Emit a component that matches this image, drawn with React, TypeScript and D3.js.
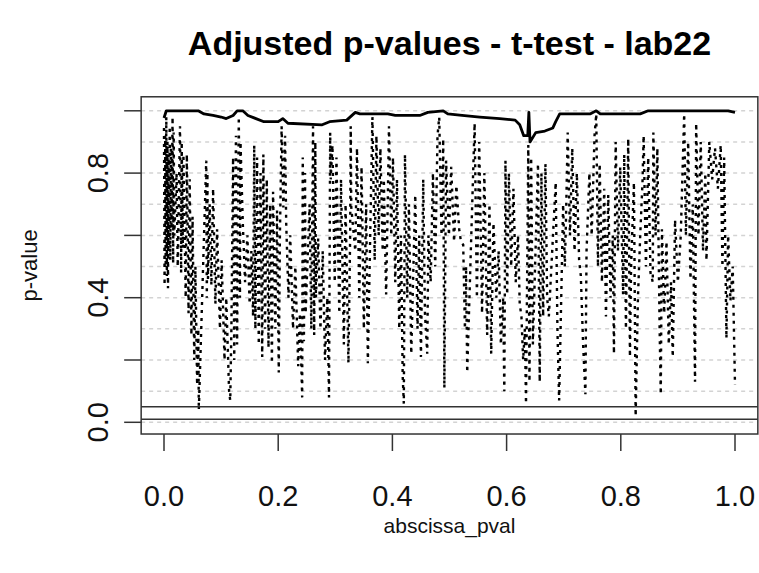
import React from "react";
import * as d3 from "d3";

// Unadjusted p-values along the abscissa: [abscissa, p]
const rawPvals: [number, number][] = [
  [0.000, 0.945], [0.001, 0.44], [0.002, 0.92], [0.003, 0.50], [0.004, 0.98],
  [0.005, 0.47], [0.006, 0.90], [0.007, 0.43], [0.008, 0.86], [0.009, 0.55],
  [0.010, 0.95], [0.011, 0.52], [0.012, 0.88], [0.013, 0.62],
  [0.015, 0.98], [0.016, 0.51], [0.017, 0.93], [0.018, 0.60],
  [0.022, 0.80], [0.024, 0.50],
  [0.028, 0.95], [0.030, 0.48], [0.031, 0.90], [0.033, 0.56], [0.034, 0.86],
  [0.038, 0.40], [0.040, 0.86], [0.043, 0.35], [0.045, 0.78], [0.048, 0.28],
  [0.050, 0.66], [0.053, 0.20], [0.055, 0.50], [0.058, 0.12], [0.060, 0.30],
  [0.061, 0.04],
  [0.074, 0.84], [0.075, 0.40], [0.076, 0.80], [0.077, 0.46],
  [0.080, 0.70], [0.083, 0.44], [0.086, 0.75], [0.090, 0.38], [0.093, 0.62],
  [0.098, 0.30], [0.101, 0.52], [0.106, 0.20], [0.109, 0.40], [0.114, 0.10],
  [0.116, 0.07],
  [0.118, 0.30], [0.121, 0.85], [0.123, 0.20], [0.126, 0.92], [0.128, 0.25],
  [0.131, 0.98], [0.133, 0.40], [0.134, 0.90],
  [0.138, 0.64], [0.142, 0.45], [0.146, 0.60], [0.150, 0.38], [0.153, 0.55],
  [0.156, 0.34],
  [0.158, 0.89], [0.160, 0.30], [0.163, 0.85], [0.166, 0.25], [0.169, 0.80],
  [0.172, 0.21], [0.174, 0.86],
  [0.177, 0.30], [0.180, 0.78], [0.183, 0.24], [0.186, 0.70], [0.189, 0.19],
  [0.191, 0.74], [0.195, 0.30], [0.198, 0.68], [0.201, 0.16], [0.203, 0.60],
  [0.206, 0.95], [0.209, 0.69], [0.212, 0.92], [0.214, 0.64],
  [0.218, 0.40], [0.221, 0.60], [0.226, 0.30], [0.230, 0.50], [0.235, 0.18],
  [0.238, 0.35], [0.242, 0.08],
  [0.243, 0.85], [0.245, 0.26], [0.247, 0.80], [0.248, 0.35],
  [0.255, 0.70], [0.258, 0.30], [0.261, 0.95], [0.263, 0.28], [0.265, 0.90],
  [0.266, 0.40],
  [0.270, 0.59], [0.274, 0.30], [0.278, 0.55], [0.282, 0.20], [0.286, 0.40],
  [0.289, 0.08],
  [0.291, 0.93], [0.292, 0.78],
  [0.295, 0.89], [0.299, 0.45], [0.302, 0.85], [0.307, 0.35], [0.310, 0.78],
  [0.315, 0.25], [0.318, 0.70], [0.323, 0.19], [0.326, 0.60],
  [0.327, 0.95], [0.328, 0.69],
  [0.335, 0.55], [0.338, 0.88], [0.342, 0.40], [0.346, 0.82], [0.350, 0.30],
  [0.354, 0.70], [0.357, 0.19],
  [0.365, 0.98], [0.369, 0.52], [0.372, 0.92], [0.376, 0.60], [0.379, 0.88],
  [0.383, 0.55],
  [0.385, 0.78], [0.389, 0.41], [0.392, 0.72],
  [0.394, 0.95], [0.398, 0.60], [0.401, 0.85], [0.405, 0.45], [0.408, 0.78],
  [0.412, 0.30], [0.415, 0.60], [0.418, 0.15], [0.420, 0.06],
  [0.422, 0.86], [0.426, 0.40], [0.429, 0.70], [0.433, 0.22],
  [0.440, 0.73], [0.444, 0.30], [0.447, 0.60], [0.450, 0.21],
  [0.454, 0.78], [0.457, 0.35], [0.461, 0.22],
  [0.463, 0.60], [0.467, 0.45], [0.471, 0.80], [0.475, 0.50], [0.479, 0.92],
  [0.482, 0.98],
  [0.486, 0.60], [0.489, 0.91], [0.491, 0.11],
  [0.494, 0.84], [0.499, 0.60], [0.503, 0.82], [0.508, 0.58], [0.512, 0.76],
  [0.517, 0.62], [0.520, 0.58],
  [0.524, 0.57], [0.527, 0.30], [0.529, 0.50], [0.531, 0.16],
  [0.544, 0.96], [0.548, 0.40], [0.552, 0.90], [0.557, 0.35], [0.561, 0.80],
  [0.566, 0.28], [0.570, 0.70], [0.573, 0.22],
  [0.577, 0.64], [0.582, 0.40], [0.586, 0.55], [0.590, 0.25], [0.594, 0.40],
  [0.596, 0.10],
  [0.598, 0.84], [0.601, 0.41], [0.604, 0.80], [0.608, 0.50], [0.612, 0.75],
  [0.616, 0.45], [0.620, 0.60], [0.623, 0.38],
  [0.626, 0.34], [0.629, 0.20], [0.632, 0.30], [0.634, 0.06],
  [0.638, 0.89], [0.640, 0.13], [0.643, 0.85], [0.646, 0.25],
  [0.655, 0.83], [0.658, 0.13], [0.661, 0.80], [0.664, 0.34], [0.668, 0.83],
  [0.671, 0.40], [0.674, 0.34],
  [0.686, 0.77], [0.689, 0.30], [0.692, 0.07],
  [0.699, 0.70], [0.702, 0.50], [0.704, 0.65],
  [0.707, 0.93], [0.711, 0.60], [0.715, 0.88], [0.719, 0.55], [0.723, 0.80],
  [0.727, 0.52],
  [0.730, 0.47], [0.734, 0.25], [0.738, 0.09],
  [0.740, 0.55], [0.745, 0.80], [0.749, 0.60], [0.754, 0.92], [0.757, 0.99],
  [0.760, 0.50], [0.763, 0.83], [0.767, 0.45], [0.771, 0.75], [0.774, 0.34],
  [0.778, 0.73], [0.782, 0.40], [0.786, 0.60], [0.788, 0.22],
  [0.791, 0.90], [0.795, 0.55], [0.799, 0.82], [0.804, 0.41],
  [0.806, 0.86], [0.809, 0.30], [0.813, 0.91], [0.816, 0.21], [0.818, 0.50],
  [0.823, 0.77], [0.826, 0.02], [0.830, 0.40], [0.834, 0.60], [0.838, 0.77],
  [0.840, 0.92], [0.844, 0.50], [0.848, 0.85], [0.852, 0.48], [0.856, 0.45],
  [0.857, 0.93], [0.861, 0.60], [0.864, 0.88], [0.868, 0.30], [0.870, 0.09],
  [0.872, 0.62], [0.876, 0.35], [0.880, 0.58], [0.884, 0.25], [0.888, 0.45],
  [0.891, 0.21],
  [0.895, 0.65], [0.900, 0.45], [0.905, 0.60],
  [0.911, 0.99], [0.914, 0.60], [0.918, 0.90], [0.922, 0.46], [0.926, 0.70],
  [0.930, 0.13],
  [0.932, 0.96], [0.936, 0.60], [0.940, 0.90], [0.944, 0.55], [0.948, 0.80],
  [0.950, 0.52],
  [0.955, 0.90], [0.960, 0.78], [0.965, 0.88], [0.970, 0.75],
  [0.975, 0.89], [0.978, 0.50], [0.981, 0.85], [0.985, 0.27], [0.988, 0.60],
  [0.992, 0.39], [0.996, 0.50], [1.000, 0.12],
];

// Adjusted p-values (solid curve near the top): [abscissa, p]
const adjPvals: [number, number][] = [
  [0.000, 0.977], [0.004, 1.000], [0.060, 1.000], [0.070, 0.990], [0.086, 0.985],
  [0.100, 0.980], [0.109, 0.975], [0.121, 0.985], [0.128, 1.000], [0.138, 1.000],
  [0.147, 0.985], [0.161, 0.975], [0.175, 0.965], [0.200, 0.965], [0.208, 0.975],
  [0.217, 0.960], [0.277, 0.955], [0.290, 0.965], [0.320, 0.970], [0.335, 0.995],
  [0.343, 0.990], [0.392, 0.990], [0.405, 0.985], [0.448, 0.985], [0.462, 0.995],
  [0.489, 1.000], [0.497, 0.990], [0.522, 0.985], [0.553, 0.980], [0.588, 0.975],
  [0.615, 0.970], [0.623, 0.955], [0.630, 0.920], [0.637, 0.920], [0.639, 0.995],
  [0.641, 0.900], [0.651, 0.930], [0.667, 0.935], [0.681, 0.945], [0.686, 0.965],
  [0.693, 0.990], [0.746, 0.990], [0.757, 1.000], [0.764, 0.990], [0.834, 0.990],
  [0.848, 1.000], [0.988, 1.000], [1.000, 0.995],
];

// Significance thresholds drawn as horizontal reference lines
const thresholds = [0.05, 0.01];

const xTicks = [0, 0.2, 0.4, 0.6, 0.8, 1.0];
const xTickLabels = ["0.0", "0.2", "0.4", "0.6", "0.8", "1.0"];
const yTicks = [0, 0.2, 0.4, 0.6, 0.8, 1.0];
const yTickLabels = ["0.0", "", "0.4", "", "0.8", ""];
const gridLevels = [0, 0.1, 0.2, 0.3, 0.4, 0.5, 0.6, 0.7, 0.8, 0.9, 1.0];

const W = 759;
const H = 573;
const FONT = "'Liberation Sans', Arial, sans-serif";

export default function App() {
  const x = d3.scaleLinear().domain([0, 1]).range([164, 735]);
  const y = d3.scaleLinear().domain([0, 1]).range([422.3, 110.8]);

  const boxL = x(-0.04);
  const boxR = x(1.04);
  const boxT = y(1.045);
  const boxB = y(-0.0376);

  const line = d3
    .line<[number, number]>()
    .x((d) => x(d[0]))
    .y((d) => y(d[1]));

  const tickLen = 17;

  return (
    <svg
      width={W}
      height={H}
      style={{ position: "absolute", left: 0, top: 0, background: "#fff" }}
      fontFamily={FONT}
    >
      <rect x={0} y={0} width={W} height={H} fill="#fff" />

      {/* horizontal grid */}
      {gridLevels.map((g) => (
        <line
          key={"g" + g}
          x1={boxL}
          x2={boxR}
          y1={y(g)}
          y2={y(g)}
          stroke="#d3d3d3"
          strokeWidth={1.5}
          strokeDasharray="4 4"
        />
      ))}

      {/* raw p-values, dotted */}
      <path
        d={line(rawPvals) || ""}
        fill="none"
        stroke="#000"
        strokeWidth={2.4}
        strokeDasharray="3 5"
      />

      {/* adjusted p-values, solid */}
      <path
        d={line(adjPvals) || ""}
        fill="none"
        stroke="#000"
        strokeWidth={2.8}
        strokeLinejoin="round"
      />

      {/* threshold lines */}
      {thresholds.map((t) => (
        <line
          key={"t" + t}
          x1={boxL}
          x2={boxR}
          y1={y(t)}
          y2={y(t)}
          stroke="#333"
          strokeWidth={1.5}
        />
      ))}

      {/* plot box */}
      <rect
        x={boxL}
        y={boxT}
        width={boxR - boxL}
        height={boxB - boxT}
        fill="none"
        stroke="#333"
        strokeWidth={1.5}
      />

      {/* x axis */}
      {xTicks.map((t, i) => (
        <g key={"xt" + t}>
          <line
            x1={x(t)}
            x2={x(t)}
            y1={boxB}
            y2={boxB + tickLen}
            stroke="#333"
            strokeWidth={1.5}
          />
          <text
            x={x(t)}
            y={506}
            textAnchor="middle"
            fontSize={29}
            fill="#111"
          >
            {xTickLabels[i]}
          </text>
        </g>
      ))}

      {/* y axis */}
      {yTicks.map((t, i) => (
        <g key={"yt" + t}>
          <line
            x1={boxL - tickLen}
            x2={boxL}
            y1={y(t)}
            y2={y(t)}
            stroke="#333"
            strokeWidth={1.5}
          />
          {yTickLabels[i] && (
            <text
              transform={`translate(108, ${y(t)}) rotate(-90)`}
              textAnchor="middle"
              fontSize={29}
              fill="#111"
            >
              {yTickLabels[i]}
            </text>
          )}
        </g>
      ))}

      {/* titles */}
      <text
        x={(boxL + boxR) / 2}
        y={55}
        textAnchor="middle"
        fontSize={34}
        fontWeight="bold"
        fill="#000"
      >
        Adjusted p-values - t-test - lab22
      </text>
      <text
        x={(boxL + boxR) / 2}
        y={533}
        textAnchor="middle"
        fontSize={21}
        fill="#111"
      >
        abscissa_pval
      </text>
      <text
        transform={`translate(37, ${(boxT + boxB) / 2}) rotate(-90)`}
        textAnchor="middle"
        fontSize={22}
        fill="#111"
      >
        p-value
      </text>
    </svg>
  );
}
